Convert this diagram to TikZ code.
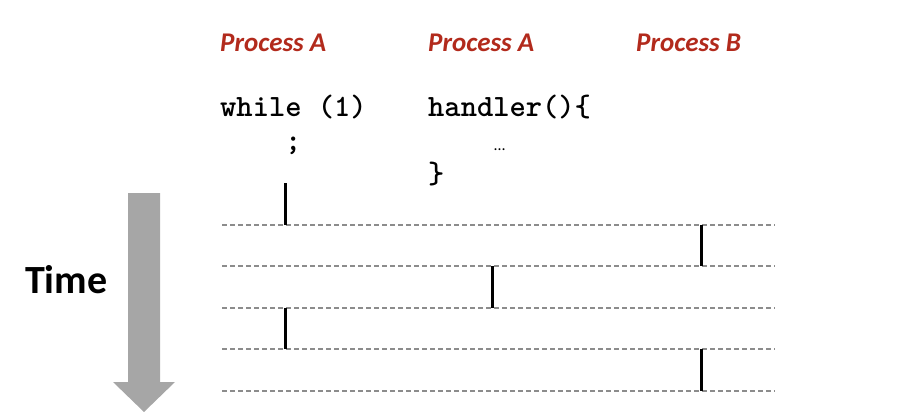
\documentclass[tikz,border=0pt]{standalone}
\usepackage{fontspec}
\setmainfont{Carlito}
\definecolor{procred}{RGB}{178,42,28}
\definecolor{arrowgray}{RGB}{166,166,166}
\definecolor{dashgray}{RGB}{140,140,140}
\begin{document}
\begin{tikzpicture}[x=1pt,y=-1pt,
  proc/.style={anchor=base west,inner sep=0pt,font=\fontsize{27}{32}\selectfont\bfseries\itshape,text=procred},
  code/.style={anchor=base west,inner sep=0pt,font=\fontsize{31}{33}\selectfont\ttfamily\bfseries},
  tl/.style={draw=dashgray,line width=1.8pt,dash pattern=on 4.5pt off 3.5pt},
  bar/.style={draw=black,line width=3pt}]
\useasboundingbox (0,0) rectangle (903,412);
% headings
\node[proc] (pa1) at (220,52) {Process A};
\node[proc] (pa2) at (428,52) {Process A};
\node[proc] (pb) at (636,52) {Process B};
% code
\node[code] (c1) at (220,117) {while (1)};
\node[code] (c2) at (285,150) {;};
\node[code] (h1) at (428,117) {handler()\{};
\node[anchor=base west,inner sep=0pt,font=\fontsize{16}{18}\selectfont] (h2) at (494,150) {…};
\node[code] (h3) at (428,183) {\}};
% time arrow
\fill[arrowgray] (128,193) -- (160,193) -- (160,382) -- (175,382) -- (144,412) -- (113,382) -- (128,382) -- cycle;
\node[anchor=base west,inner sep=0pt,font=\fontsize{40}{44}\selectfont\bfseries] (time) at (25,293) {Time};
% timelines
\foreach \yy in {225,266,308,349,391}
  \draw[tl] (222,\yy) -- (775,\yy);
% execution bars
\draw[bar] (285,183) -- (285,225);
\draw[bar] (701,225) -- (701,266);
\draw[bar] (492,266) -- (492,308);
\draw[bar] (285,308) -- (285,349);
\draw[bar] (701,349) -- (701,391);
\end{tikzpicture}
\end{document}
